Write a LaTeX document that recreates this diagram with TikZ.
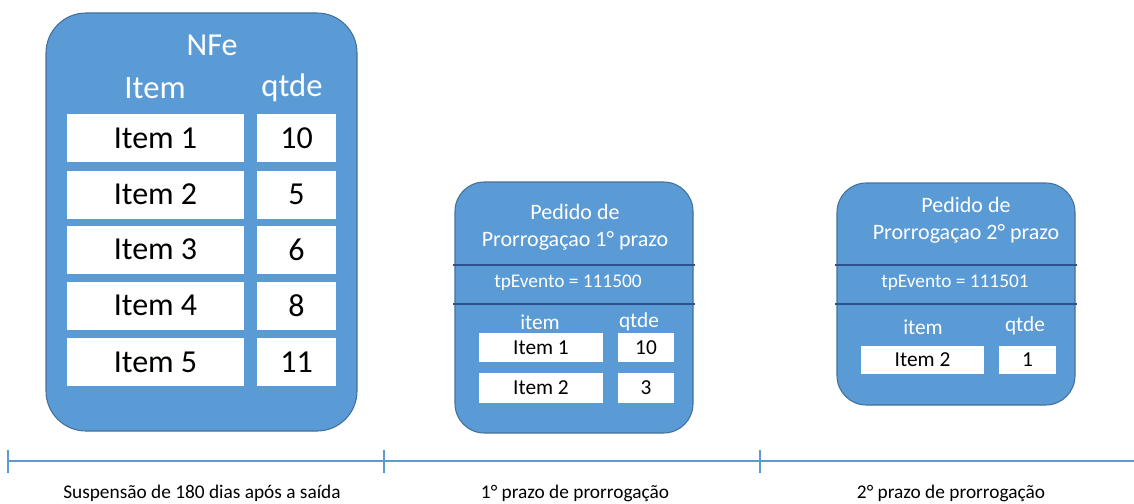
\documentclass[tikz,border=0pt]{standalone}
\usepackage{fontspec}
\setmainfont{Carlito}
\usetikzlibrary{positioning}

\definecolor{boxblue}{HTML}{5B9BD5}
\definecolor{boxedge}{HTML}{41719C}
\definecolor{sepblue}{HTML}{2F528F}

\begin{document}
\begin{tikzpicture}[x=0.75pt, y=-0.75pt,
                    doc box/.style={draw=boxedge, fill=boxblue, line width=0.8pt},
                    cell/.style={fill=white, inner sep=0pt},
                    head/.style={text=white, inner sep=0pt},
                    sep line/.style={draw=sepblue, line width=1.5pt},
                    time line/.style={draw=boxblue, line width=1.5pt}]

  \useasboundingbox (0,0) rectangle (1134,503);

  % NFe
  \node[doc box, rounded corners=30pt, minimum width=233.25pt, minimum height=313.5pt] (nfe) at (201.5,222) {};
  \node[head, font=\fontsize{24}{28}\selectfont] (nfetitle) at (212,45) {NFe};
  \node[head, font=\fontsize{24.5}{28}\selectfont] (nfeitem) at (155,88) {Item};
  \node[head, font=\fontsize{24.5}{28}\selectfont] (nfeqtde) at (292,88) {qtde};

  \foreach \name/\qt/\y in {1/10/138, 2/5/194.5, 3/6/249.5, 4/8/305.5, 5/11/362} {
    \node[cell, minimum width=132.75pt, minimum height=36pt, font=\fontsize{24}{28}\selectfont] (nitem\name) at (155.5,\y) {Item \name};
    \node[cell, minimum width=59.25pt, minimum height=36pt, font=\fontsize{24}{28}\selectfont] (nqtde\name) at (296.5,\y) {\qt};
  }

  % Pedido 1
  \node[doc box, rounded corners=22pt, minimum width=178.5pt, minimum height=188.25pt] (ped1) at (574,307.5) {};
  \draw[sep line] (453,265) -- (695,265);
  \draw[sep line] (453,304) -- (695,304);
  \node[head, align=center, font=\fontsize{16.5}{20}\selectfont] (ped1title) at (575,227) {Pedido de\\Prorrogaçao 1° prazo};
  \node[head, font=\fontsize{14.5}{17}\selectfont] (ped1evt) at (568,283) {tpEvento = 111500};
  \node[head, font=\fontsize{16}{19}\selectfont] (ped1item) at (540,322) {item};
  \node[head, font=\fontsize{16}{19}\selectfont] (ped1qtde) at (639,322) {qtde};
  \node[cell, minimum width=93pt, minimum height=21.75pt, font=\fontsize{16}{19}\selectfont] (p1item1) at (541,347.5) {Item 1};
  \node[cell, minimum width=42pt, minimum height=21.75pt, font=\fontsize{16}{19}\selectfont] (p1qtde1) at (646,347.5) {10};
  \node[cell, minimum width=93pt, minimum height=22.5pt, font=\fontsize{16}{19}\selectfont] (p1item2) at (541,387.5) {Item 2};
  \node[cell, minimum width=42pt, minimum height=22.5pt, font=\fontsize{16}{19}\selectfont] (p1qtde2) at (646,387.5) {3};

  % Pedido 2
  \node[doc box, rounded corners=22pt, minimum width=178.5pt, minimum height=166.5pt] (ped2) at (956,294) {};
  \draw[sep line] (835,265) -- (1077,265);
  \draw[sep line] (835,304) -- (1077,304);
  \node[head, align=center, font=\fontsize{16.5}{20}\selectfont] (ped2title) at (966,220) {Pedido de\\Prorrogaçao 2° prazo};
  \node[head, font=\fontsize{14.5}{17}\selectfont] (ped2evt) at (955,283) {tpEvento = 111501};
  \node[head, font=\fontsize{16}{19}\selectfont] (ped2item) at (923,327) {item};
  \node[head, font=\fontsize{16}{19}\selectfont] (ped2qtde) at (1025,326) {qtde};
  \node[cell, minimum width=92.25pt, minimum height=21pt, font=\fontsize{16}{19}\selectfont] (p2item2) at (922.5,360) {Item 2};
  \node[cell, minimum width=42.75pt, minimum height=21pt, font=\fontsize{16}{19}\selectfont] (p2qtde2) at (1027.5,360) {1};

  % linha do tempo
  \coordinate (t0) at (8,461);
  \coordinate (t1) at (384,461);
  \coordinate (t2) at (760,461);
  \coordinate (tend) at (1134,461);
  \draw[time line] (t0) -- (tend);
  \foreach \t in {t0,t1,t2}
    \draw[time line] ([yshift=8.25pt]\t) -- ([yshift=-9pt]\t);

  \node[font=\fontsize{14.5}{17}\selectfont] (susp) at (202,493) {Suspensão de 180 dias após a saída};
  \node[font=\fontsize{14.5}{17}\selectfont] (prazo1) at (575,493) {1° prazo de prorrogação};
  \node[font=\fontsize{14.5}{17}\selectfont] (prazo2) at (951,493) {2° prazo de prorrogação};

\end{tikzpicture}
\end{document}
